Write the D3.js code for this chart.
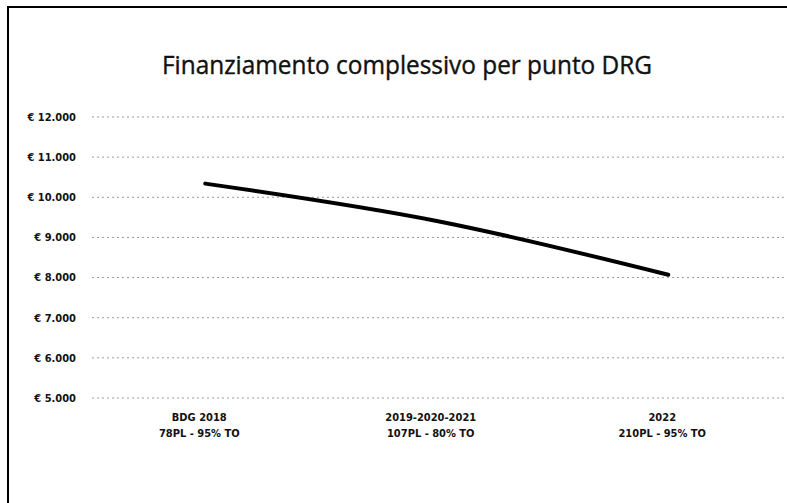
<!DOCTYPE html>
<html>
<head>
<meta charset="utf-8">
<script src="https://cdn.jsdelivr.net/npm/d3@7"></script>
<style>
  body { margin: 0; background: #fff; }
  text { font-family: "Liberation Sans Narrow", "Arial Narrow", "DejaVu Sans Condensed", sans-serif; }
</style>
</head>
<body>
<div id="wrapper"></div>
<script>
// Data
const categories = ["BDG 2018|78PL - 95% TO", "2019-2020-2021|107PL - 80% TO", "2022|210PL - 95% TO"];
const values = [10340, 9410, 8070];
const yTicks = [5000, 6000, 7000, 8000, 9000, 10000, 11000, 12000];
const title = "Finanziamento complessivo per punto DRG";

// Dimensions
const width = 787;
const height = 503;

const svg = d3.select("#wrapper")
  .append("svg")
    .attr("width", width)
    .attr("height", height);

// frame (scanned page edge)
svg.append("path")
  .attr("d", `M8,${height} L8,7 L${width},7`)
  .attr("fill", "none")
  .attr("stroke", "#000")
  .attr("stroke-width", 2);

// Scales
const xScale = d3.scaleBand()
  .domain(categories)
  .range([89.5, 784]);

const yScale = d3.scaleLinear()
  .domain([5000, 12000])
  .range([398, 117]);

const xCenter = d => xScale(d) + xScale.bandwidth() / 2;

// Gridlines
svg.append("g")
  .selectAll("line")
  .data(yTicks)
  .join("line")
    .attr("x1", 92)
    .attr("x2", 785)
    .attr("y1", d => yScale(d))
    .attr("y2", d => yScale(d))
    .attr("stroke", "#9a9a9a")
    .attr("stroke-width", 1)
    .attr("stroke-dasharray", "2,3");

// Y labels
const fmt = d => "€ " + d3.format(",")(d).replace(/,/g, ".");
svg.append("g")
  .selectAll("text")
  .data(yTicks)
  .join("text")
    .attr("x", 76)
    .attr("y", d => yScale(d))
    .attr("dy", "0.35em")
    .attr("text-anchor", "end")
    .attr("font-size", 11)
    .attr("font-weight", "bold")
    .attr("fill", "#111")
    .text(fmt);

// X labels
const xLabels = svg.append("g")
  .selectAll("text")
  .data(categories)
  .join("text")
    .attr("text-anchor", "middle")
    .attr("font-size", 11)
    .attr("font-weight", "bold")
    .attr("fill", "#111");

xLabels.selectAll("tspan")
  .data(d => d.split("|").map((t, i) => ({ t, i, c: d })))
  .join("tspan")
    .attr("x", d => xCenter(d.c) - 6)
    .attr("y", d => 421 + d.i * 16)
    .text(d => d.t);

// Line
const line = d3.line()
  .x((d, i) => xCenter(categories[i]))
  .y(d => yScale(d))
  .curve(d3.curveCatmullRom);

svg.append("path")
  .datum(values)
  .attr("d", line)
  .attr("fill", "none")
  .attr("stroke", "#000")
  .attr("stroke-width", 4)
  .attr("stroke-linecap", "round");

// Title
svg.append("text")
  .attr("x", 407)
  .attr("y", 74)
  .attr("text-anchor", "middle")
  .attr("font-size", 26)
  .attr("fill", "#111")
  .attr("stroke", "#111")
  .attr("stroke-width", 0.4)
  .style("font-family", "'Open Sans', 'Noto Sans', sans-serif")
  .attr("textLength", 490)
  .attr("lengthAdjust", "spacingAndGlyphs")
  .text(title);
</script>
</body>
</html>
